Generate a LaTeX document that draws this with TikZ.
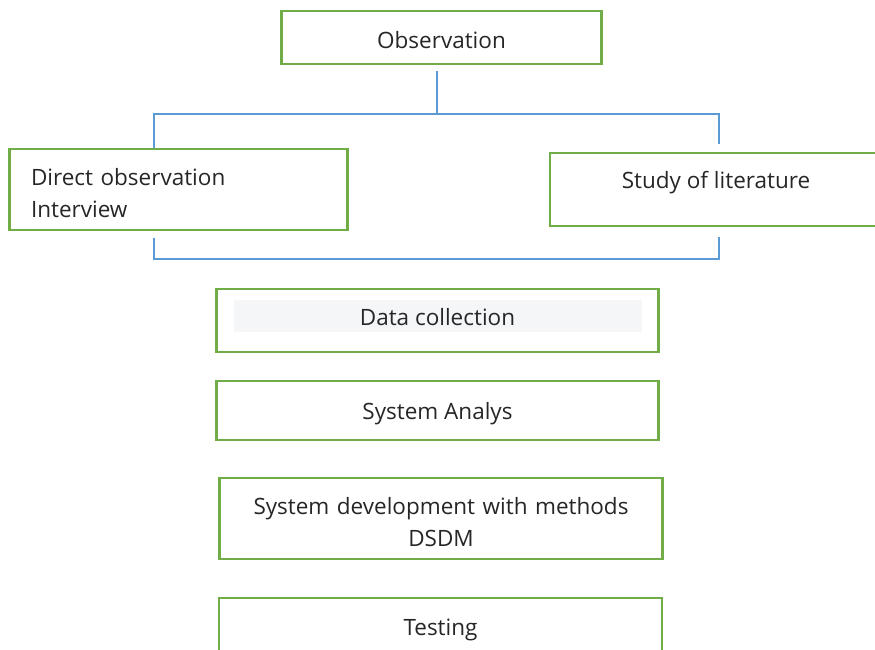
\documentclass[tikz,border=0pt]{standalone}
\usepackage{fontspec}
\setmainfont{Open Sans}
\usetikzlibrary{positioning}
\definecolor{boxgreen}{HTML}{70AD47}
\definecolor{linkblue}{HTML}{5B9BD5}
\definecolor{paleband}{HTML}{F5F6F8}
\definecolor{ink}{HTML}{262626}
\tikzset{
  stage/.style={draw=boxgreen, line width=2.6pt, inner sep=0pt, text=ink,
    font=\fontsize{22.5}{32}\selectfont, align=center},
  link/.style={draw=linkblue, line width=1.3pt},
}
\begin{document}
\begin{tikzpicture}[x=1pt, y=-1pt]
\useasboundingbox (0,0) rectangle (875,649);
\clip (0,0) rectangle (875,649);
% boxes
\node[stage, minimum width=320pt, text height=37pt, text depth=16pt] (obs) at (441.5,37.5) {Observation};
\node[stage, minimum width=338pt, text height=36pt, text depth=45pt, text width=295pt, align=left] (direct) at (178.5,189.5) {Direct observation\\Interview};
\node[stage, minimum width=332pt, text height=35pt, text depth=38pt] (study) at (716,189.5) {Study of literature};
\node[stage, minimum width=442pt, text height=36pt, text depth=27pt,
  path picture={\fill[paleband] ([xshift=17pt,yshift=-11pt]path picture bounding box.north west) rectangle ([xshift=-17pt,yshift=20pt]path picture bounding box.south east);}] (data) at (437.5,320.5) {Data collection};
\node[stage, minimum width=442pt, text height=38pt, text depth=21pt] (analys) at (437.5,410.5) {System Analys};
\node[stage, text width=443pt, text height=36pt, text depth=45pt] (dev) at (441,518.5) {System development with methods\\DSDM};
\node[stage, minimum width=443pt, text height=37pt, text depth=25pt] (test) at (440.5,629) {Testing};
% bracket
\path (437,114) coordinate (split) (154,114) coordinate (lt) (719,114) coordinate (rt)
  (154,259) coordinate (lb) (719,259) coordinate (rb);
\draw[link, shorten <=6pt] (obs.south -| split) -- (split);
\draw[link, shorten >=8pt] (direct.north -| lt) -- (lt) -- (rt) -- (study.north -| rt);
\draw[link, shorten <=7pt, shorten >=10pt] (direct.south -| lb) -- (lb) -- (rb) -- (study.south -| rb);
\end{tikzpicture}
\end{document}
